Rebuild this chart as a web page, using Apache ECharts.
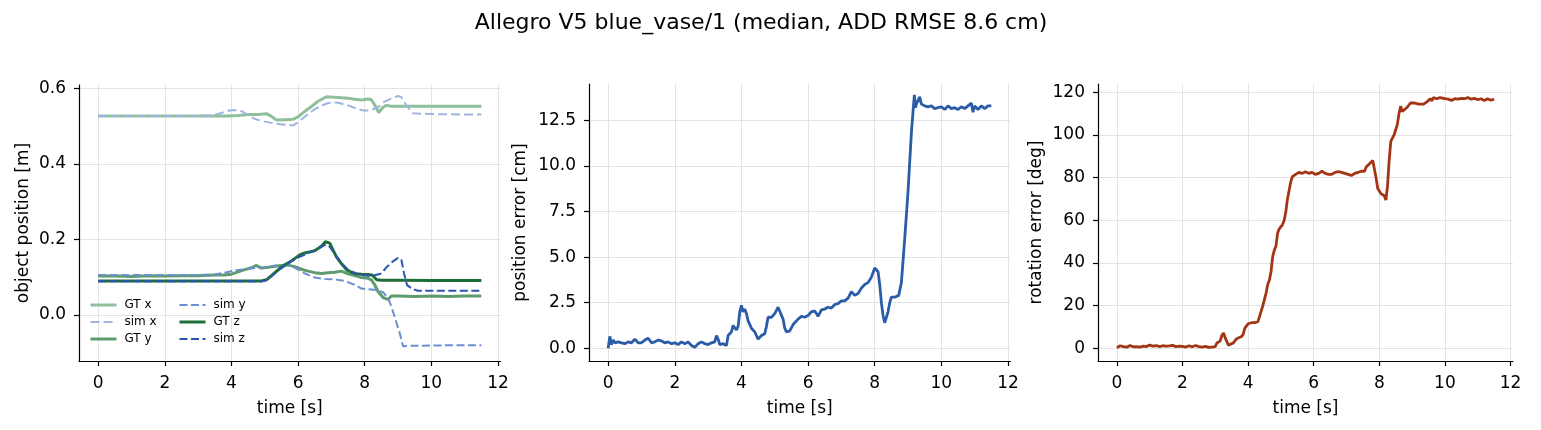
<!DOCTYPE html>
<html>
<head>
<meta charset="utf-8">
<script src="https://cdn.jsdelivr.net/npm/echarts@6/dist/echarts.min.js"></script>
<style>
  html, body { margin: 0; padding: 0; background: #fff; }
  #main { width: 1541px; height: 430px; }
</style>
</head>
<body>
<div id="main"></div>
<script>
// tick labels
const timeTicks = [0, 2, 4, 6, 8, 10, 12];
const posTicks = [0, 0.2, 0.4, 0.6];
const errTicks = [0, 2.5, 5, 7.5, 10, 12.5];
const rotTicks = [0, 20, 40, 60, 80, 100, 120];

// object position [m]
const gtxT = [0, 0.5, 1, 1.5, 2, 2.5, 3, 3.5, 3.9, 4.2, 4.5, 4.8, 5.05, 5.2, 5.35, 5.6, 5.85, 6.0, 6.2, 6.4, 6.6, 6.85, 7.0, 7.2, 7.5, 7.7, 7.9, 8.1, 8.2, 8.3, 8.42, 8.48, 8.55, 8.65, 8.8, 9.2, 10, 10.5, 11, 11.5];
const gtxV = [0.527, 0.527, 0.527, 0.527, 0.527, 0.527, 0.527, 0.527, 0.527, 0.528, 0.531, 0.531, 0.533, 0.526, 0.516, 0.517, 0.518, 0.525, 0.539, 0.552, 0.566, 0.578, 0.577, 0.576, 0.574, 0.571, 0.569, 0.572, 0.57, 0.556, 0.536, 0.54, 0.55, 0.555, 0.553, 0.553, 0.553, 0.553, 0.553, 0.553];

const simxT = [0, 1, 2, 3, 3.4, 3.7, 3.9, 4.1, 4.3, 4.5, 4.7, 5.0, 5.3, 5.6, 5.85, 6.0, 6.2, 6.5, 6.8, 7.0, 7.2, 7.5, 7.8, 8.0, 8.2, 8.4, 8.6, 8.85, 9.0, 9.1, 9.25, 9.45, 10, 11, 11.5];
const simxV = [0.527, 0.527, 0.527, 0.527, 0.528, 0.535, 0.541, 0.543, 0.54, 0.53, 0.519, 0.512, 0.507, 0.504, 0.502, 0.51, 0.525, 0.545, 0.558, 0.563, 0.562, 0.555, 0.545, 0.541, 0.543, 0.55, 0.565, 0.575, 0.58, 0.577, 0.555, 0.534, 0.532, 0.531, 0.531];

const gtyT = [0, 0.5, 1, 1.5, 2, 2.5, 3, 3.5, 3.8, 4.0, 4.2, 4.4, 4.6, 4.75, 4.9, 5.1, 5.3, 5.5, 5.7, 5.9, 6.1, 6.3, 6.5, 6.7, 6.9, 7.1, 7.3, 7.5, 7.7, 7.9, 8.1, 8.2, 8.3, 8.4, 8.55, 8.7, 8.8, 9, 9.5, 10, 10.5, 11, 11.5];
const gtyV = [0.103, 0.103, 0.102, 0.104, 0.103, 0.104, 0.104, 0.106, 0.106, 0.108, 0.114, 0.12, 0.125, 0.131, 0.124, 0.126, 0.129, 0.131, 0.132, 0.128, 0.121, 0.116, 0.112, 0.11, 0.112, 0.113, 0.116, 0.109, 0.104, 0.099, 0.097, 0.093, 0.08, 0.062, 0.046, 0.041, 0.05, 0.05, 0.049, 0.05, 0.049, 0.05, 0.05];

const simyT = [0, 1, 2, 3, 3.5, 3.8, 4.1, 4.4, 4.7, 5.0, 5.3, 5.6, 5.8, 6.0, 6.2, 6.5, 6.8, 7.1, 7.4, 7.7, 7.9, 8.1, 8.35, 8.55, 8.7, 8.8, 8.95, 9.05, 9.15, 9.3, 10, 11, 11.5];
const simyV = [0.106, 0.106, 0.106, 0.106, 0.107, 0.112, 0.118, 0.121, 0.124, 0.126, 0.13, 0.132, 0.13, 0.12, 0.11, 0.099, 0.095, 0.094, 0.09, 0.08, 0.07, 0.068, 0.066, 0.06, 0.045, 0.022, -0.02, -0.048, -0.083, -0.082, -0.081, -0.08, -0.08];

const gtzT = [0, 1, 2, 3, 4, 4.5, 4.9, 5.05, 5.2, 5.45, 5.6, 5.8, 6.05, 6.2, 6.35, 6.5, 6.7, 6.82, 6.95, 7.15, 7.3, 7.45, 7.6, 7.75, 7.9, 8.1, 8.22, 8.36, 8.5, 9, 10, 11, 11.5];
const gtzV = [0.09, 0.09, 0.09, 0.09, 0.09, 0.09, 0.09, 0.093, 0.104, 0.123, 0.133, 0.143, 0.159, 0.164, 0.167, 0.17, 0.182, 0.194, 0.19, 0.154, 0.136, 0.12, 0.113, 0.109, 0.108, 0.107, 0.106, 0.093, 0.092, 0.092, 0.091, 0.091, 0.091];

const simzT = [0, 1, 2, 3, 4, 4.5, 4.9, 5.05, 5.2, 5.4, 5.6, 5.8, 6.0, 6.2, 6.4, 6.6, 6.8, 6.9, 7.1, 7.3, 7.5, 7.7, 7.9, 8.1, 8.3, 8.5, 8.65, 8.85, 9.0, 9.1, 9.18, 9.27, 9.45, 9.6, 10, 11, 11.5];
const simzV = [0.089, 0.089, 0.089, 0.089, 0.089, 0.089, 0.089, 0.092, 0.102, 0.118, 0.13, 0.142, 0.152, 0.16, 0.167, 0.175, 0.185, 0.186, 0.162, 0.138, 0.12, 0.11, 0.106, 0.104, 0.105, 0.11, 0.126, 0.142, 0.151, 0.146, 0.11, 0.079, 0.068, 0.064, 0.064, 0.064, 0.064];

// position error [cm]
const posErrT = [0, 0.05, 0.1, 0.15, 0.2, 0.3, 0.4, 0.5, 0.6, 0.7, 0.8, 0.9, 1.0, 1.1, 1.2, 1.3, 1.4, 1.5, 1.6, 1.7, 1.8, 1.9, 2.0, 2.1, 2.2, 2.3, 2.4, 2.5, 2.6, 2.7, 2.8, 2.9, 3.0, 3.1, 3.2, 3.25, 3.3, 3.35, 3.45, 3.5, 3.55, 3.6, 3.7, 3.75, 3.8, 3.85, 3.9, 3.95, 4.0, 4.05, 4.1, 4.15, 4.2, 4.3, 4.4, 4.45, 4.5, 4.6, 4.7, 4.75, 4.8, 4.9, 5.0, 5.1, 5.15, 5.25, 5.3, 5.35, 5.45, 5.55, 5.7, 5.8, 5.9, 6.0, 6.1, 6.2, 6.3, 6.4, 6.5, 6.6, 6.7, 6.8, 6.9, 7.0, 7.1, 7.2, 7.3, 7.4, 7.5, 7.6, 7.7, 7.8, 7.9, 8.0, 8.05, 8.1, 8.15, 8.2, 8.25, 8.3, 8.35, 8.4, 8.45, 8.5, 8.55, 8.6, 8.65, 8.72, 8.8, 8.85, 8.9, 9.0, 9.1, 9.15, 9.19, 9.22, 9.25, 9.3, 9.35, 9.4, 9.5, 9.6, 9.7, 9.8, 9.9, 10.0, 10.1, 10.2, 10.3, 10.4, 10.5, 10.6, 10.7, 10.8, 10.9, 10.95, 11.0, 11.1, 11.2, 11.3, 11.4, 11.5];
const posErrV = [0.0, 0.65, 0.2, 0.45, 0.3, 0.35, 0.3, 0.25, 0.35, 0.3, 0.5, 0.3, 0.3, 0.45, 0.55, 0.3, 0.35, 0.45, 0.4, 0.3, 0.35, 0.25, 0.3, 0.2, 0.35, 0.25, 0.35, 0.15, 0.05, 0.25, 0.35, 0.25, 0.2, 0.3, 0.35, 0.7, 0.5, 0.2, 0.25, 0.3, 0.15, 0.7, 0.9, 1.25, 1.3, 1.0, 1.2, 2.0, 2.35, 2.0, 2.15, 1.9, 1.5, 1.1, 0.9, 0.7, 0.5, 0.7, 0.8, 1.2, 1.7, 1.7, 1.9, 2.25, 2.2, 1.6, 1.1, 0.9, 0.95, 1.3, 1.6, 1.75, 1.7, 1.8, 2.0, 2.05, 1.75, 2.1, 2.15, 2.25, 2.2, 2.4, 2.45, 2.6, 2.6, 2.75, 3.1, 2.9, 3.0, 3.3, 3.5, 3.6, 3.9, 4.4, 4.45, 4.2, 3.5, 2.5, 1.8, 1.4, 1.5, 2.0, 2.5, 2.8, 2.75, 2.8, 2.7, 2.9, 3.6, 4.8, 6.0, 8.6, 11.8, 13.0, 13.9, 13.2, 13.4, 13.5, 13.8, 13.4, 13.3, 13.25, 13.3, 13.15, 13.2, 13.25, 13.1, 13.3, 13.15, 13.2, 13.1, 13.25, 13.15, 13.3, 13.45, 12.95, 13.3, 13.1, 13.3, 13.15, 13.3, 13.3];

// rotation error [deg]
const rotErrT = [0, 0.1, 0.2, 0.3, 0.4, 0.5, 0.6, 0.7, 0.8, 0.9, 1.0, 1.1, 1.2, 1.3, 1.4, 1.5, 1.6, 1.7, 1.8, 1.9, 2.0, 2.1, 2.2, 2.3, 2.4, 2.5, 2.6, 2.7, 2.8, 2.9, 3.0, 3.05, 3.15, 3.2, 3.25, 3.3, 3.4, 3.45, 3.55, 3.65, 3.7, 3.8, 3.85, 3.9, 4.0, 4.1, 4.2, 4.3, 4.35, 4.45, 4.55, 4.6, 4.65, 4.7, 4.75, 4.8, 4.85, 4.9, 4.95, 5.05, 5.1, 5.15, 5.2, 5.3, 5.35, 5.45, 5.55, 5.65, 5.75, 5.85, 5.95, 6.05, 6.15, 6.25, 6.35, 6.45, 6.55, 6.65, 6.75, 6.85, 6.95, 7.05, 7.15, 7.25, 7.35, 7.45, 7.55, 7.6, 7.7, 7.8, 7.85, 7.9, 7.95, 8.05, 8.15, 8.2, 8.25, 8.3, 8.35, 8.45, 8.55, 8.6, 8.65, 8.7, 8.75, 8.85, 8.95, 9.05, 9.2, 9.35, 9.45, 9.55, 9.6, 9.65, 9.75, 9.85, 10.0, 10.1, 10.2, 10.3, 10.4, 10.5, 10.6, 10.7, 10.8, 10.9, 11.0, 11.1, 11.2, 11.3, 11.4, 11.5];
const rotErrV = [0.3, 1.2, 0.8, 0.5, 1.3, 0.7, 0.8, 0.5, 1.0, 0.8, 1.5, 1.0, 1.3, 0.8, 1.2, 1.0, 1.1, 1.4, 0.8, 1.0, 0.9, 0.6, 1.2, 0.7, 1.3, 0.8, 0.6, 0.9, 0.4, 0.6, 0.8, 2.5, 3.5, 6.0, 7.2, 5.0, 1.5, 1.0, 2.5, 4.5, 5.3, 5.5, 6.5, 9.5, 11.5, 12.0, 12.0, 12.5, 15.0, 20.0, 26.0, 30.0, 32.0, 36.0, 43.0, 46.0, 48.0, 54.0, 56.0, 58.0, 60.0, 64.0, 70.0, 78.0, 80.5, 81.5, 82.5, 82.0, 82.8, 82.0, 82.5, 81.5, 82.0, 83.0, 82.0, 81.5, 81.5, 82.5, 82.8, 82.5, 82.0, 81.5, 81.0, 82.0, 82.5, 83.0, 83.0, 85.0, 86.5, 88.0, 87.5, 80.0, 75.0, 72.5, 71.5, 69.5, 76.0, 88.0, 97.0, 100.0, 105.0, 110.0, 113.5, 111.0, 110.5, 113.0, 115.0, 115.0, 114.5, 114.5, 115.5, 117.0, 116.0, 117.5, 117.0, 117.5, 117.0, 116.8, 116.2, 117.0, 116.8, 117.2, 117.0, 117.6, 116.8, 117.2, 116.5, 117.0, 116.2, 117.0, 116.3, 116.8];

const FONT = 'DejaVu Sans';
const FS = 17;
const pairs = (t, v) => t.map((x, i) => [x, v[i]]);

const chartDom = document.getElementById('main');
const myChart = echarts.init(chartDom, null, { renderer: 'canvas' });

function mkX(gridIndex) {
  return {
    type: 'value',
    gridIndex: gridIndex,
    min: -0.575,
    max: 12.075,
    name: 'time [s]',
    nameLocation: 'middle',
    nameGap: 39,
    nameTextStyle: { fontFamily: FONT, fontSize: FS, color: '#000' },
    axisLine: { show: true, onZero: false, lineStyle: { color: '#000', width: 1.2 } },
    axisTick: { show: true, length: 5, customValues: timeTicks, lineStyle: { color: '#000', width: 1.2 } },
    axisLabel: { customValues: timeTicks, margin: 14, fontFamily: FONT, fontSize: FS, color: '#000' },
    splitLine: { show: true, lineStyle: { color: '#e3e3e3', width: 1 } }
  };
}

function mkY(gridIndex, min, max, ticks, name, nameGap, fmt) {
  return {
    type: 'value',
    gridIndex: gridIndex,
    min: min,
    max: max,
    name: name,
    nameLocation: 'middle',
    nameGap: nameGap,
    nameTextStyle: { fontFamily: FONT, fontSize: FS, color: '#000' },
    axisLine: { show: true, onZero: false, lineStyle: { color: '#000', width: 1.2 } },
    axisTick: { show: true, length: 5, customValues: ticks, lineStyle: { color: '#000', width: 1.2 } },
    axisLabel: { customValues: ticks, margin: 13, fontFamily: FONT, fontSize: FS, color: '#000', formatter: fmt },
    splitLine: { show: true, lineStyle: { color: '#e3e3e3', width: 1 } }
  };
}

function mkLine(name, t, v, color, width, dash, axis) {
  return {
    name: name,
    type: 'line',
    xAxisIndex: axis,
    yAxisIndex: axis,
    data: pairs(t, v),
    symbol: 'none',
    smooth: false,
    lineStyle: { color: color, width: width, type: dash || 'solid', cap: 'butt' },
    itemStyle: { color: color },
    animation: false
  };
}

// legend entries: [name, line width]
function mkLegend(items, left) {
  return {
    data: items.map(([name, w]) => ({ name: name, lineStyle: { width: w } })),
    orient: 'vertical',
    left: left,
    top: 299,
    padding: 0,
    itemWidth: 26,
    itemHeight: 14,
    itemGap: 5,
    itemStyle: { opacity: 0 },
    textStyle: { fontFamily: FONT, fontSize: 12, color: '#000', padding: [0, 0, 0, 3] }
  };
}

const option = {
  backgroundColor: '#fff',
  animation: false,
  title: {
    text: 'Allegro V5 blue_vase/1 (median, ADD RMSE 8.6 cm)',
    left: 756,
    top: 7,
    textAlign: 'center',
    textStyle: { fontFamily: FONT, fontSize: 22, fontWeight: 'normal', color: '#000' }
  },
  legend: [
    mkLegend([['GT x', 3], ['sim x', 2], ['GT y', 3]], 89),
    mkLegend([['sim y', 2], ['GT z', 3], ['sim z', 2]], 178)
  ],
  grid: [
    { left: 79, top: 85, width: 421.5, height: 276 },
    { left: 589, top: 84, width: 421.5, height: 277 },
    { left: 1098, top: 84, width: 415, height: 277 }
  ],
  xAxis: [mkX(0), mkX(1), mkX(2)],
  yAxis: [
    mkY(0, -0.122, 0.609, posTicks, 'object position [m]', 47, v => v.toFixed(1)),
    mkY(1, -0.7, 14.5, errTicks, 'position error [cm]', 60, v => v.toFixed(1)),
    mkY(2, -5.95, 123.9, rotTicks, 'rotation error [deg]', 53, v => String(Math.round(v)))
  ],
  series: [
    mkLine('GT x', gtxT, gtxV, '#8fbf9b', 3, 'solid', 0),
    mkLine('sim x', simxT, simxV, '#9fb5e0', 2, [9, 4], 0),
    mkLine('GT y', gtyT, gtyV, '#5e9c6e', 3, 'solid', 0),
    mkLine('sim y', simyT, simyV, '#6b8fd1', 2, [8, 3.5], 0),
    mkLine('GT z', gtzT, gtzV, '#1f6e3a', 3, 'solid', 0),
    mkLine('sim z', simzT, simzV, '#2b55b0', 2, [8, 3.5], 0),
    mkLine('position error', posErrT, posErrV, '#2b5ca8', 2.8, 'solid', 1),
    mkLine('rotation error', rotErrT, rotErrV, '#a33515', 2.8, 'solid', 2)
  ]
};

option && myChart.setOption(option);
</script>
</body>
</html>
